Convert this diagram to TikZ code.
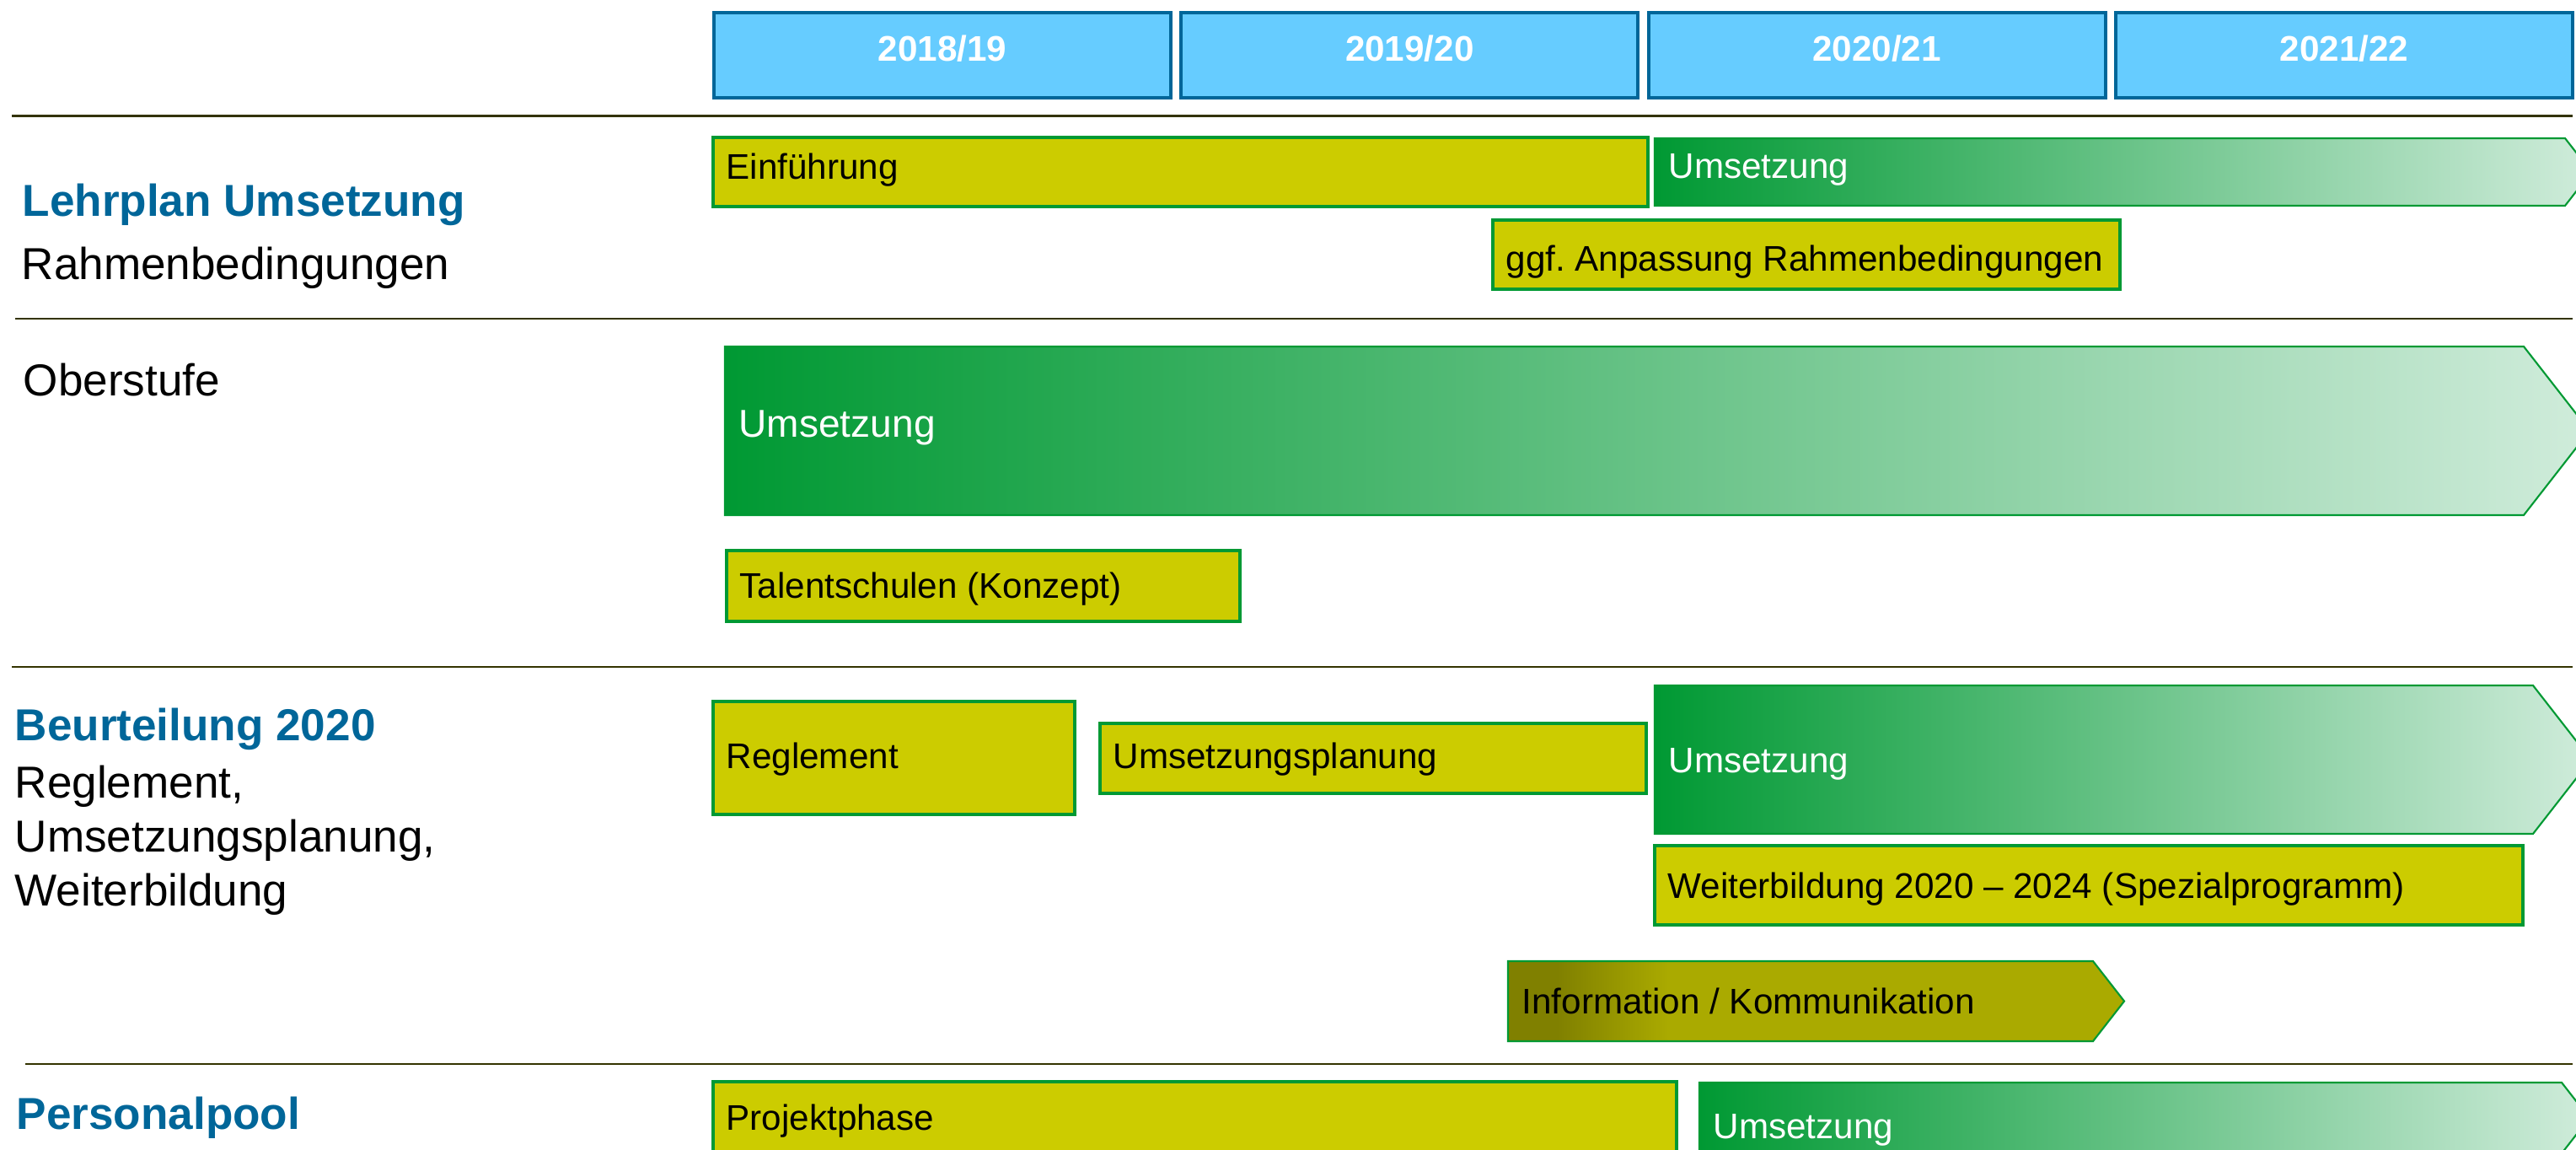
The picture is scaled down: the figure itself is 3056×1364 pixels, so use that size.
\documentclass[tikz,border=0pt]{standalone}
\usepackage{fontspec}
\setmainfont{Liberation Sans}
\usetikzlibrary{calc}
\frenchspacing

\definecolor{yearfill}{HTML}{66CCFF}
\definecolor{yearline}{HTML}{006699}
\definecolor{headblue}{HTML}{006699}
\definecolor{barfill}{HTML}{CCCC00}
\definecolor{bargreen}{HTML}{009933}
\definecolor{palegreen}{HTML}{D0ECDB}
\definecolor{infodark}{HTML}{808000}
\definecolor{infolight}{HTML}{AAAA00}
\definecolor{rulecolor}{HTML}{333300}

\pgfdeclarehorizontalshading{infoshade}{100bp}{color(0bp)=(infodark); color(29bp)=(infodark); color(38bp)=(infolight); color(100bp)=(infolight)}

\begin{document}
\begin{tikzpicture}[x=0.01cm,y=-0.01cm,
  yearbox/.style={draw=yearline,line width=1.1pt,fill=yearfill},
  yeartext/.style={anchor=base,inner sep=0pt,text=white,font=\fontsize{12}{14}\selectfont\bfseries},
  rule/.style={draw=rulecolor,line width=0.85pt},
  headtext/.style={anchor=base west,inner sep=0pt,text=headblue,font=\fontsize{15.1}{18}\selectfont\bfseries},
  subtext/.style={anchor=base west,inner sep=0pt,font=\fontsize{15.1}{18}\selectfont},
  yellowbar/.style={draw=bargreen,line width=1.4pt,fill=barfill},
  bartext/.style={anchor=base west,inner sep=0pt,font=\fontsize{12}{14}\selectfont},
  greenarrow/.style={draw=bargreen,line width=0.6pt,left color=bargreen,right color=palegreen},
  infoarrow/.style={draw=bargreen,line width=0.6pt,shading=infoshade},
  arrowtext/.style={bartext,text=white},
  bigarrowtext/.style={arrowtext,font=\fontsize{13.1}{16}\selectfont}]

  \useasboundingbox (0,0) rectangle (3056,1364);

  % name, x1, y1, x2, y2, baseline, text
  \def\planbox#1#2#3#4#5#6#7{
    \draw[yellowbar] (#2,#3) rectangle (#4,#5);
    \node[bartext] (#1) at ({#2+15},#6) {#7};
  }
  % name, shape style, text style, x1, y1, start of head, y2, baseline, text
  \def\planarrow#1#2#3#4#5#6#7#8#9{
    \path[#2] (#4,#5) -- (#6,#5) -- ({#6+0.78*(#7-#5)/2},{(#5+#7)/2}) -- (#6,#7) -- (#4,#7) -- cycle;
    \node[#3] (#1) at ({#4+16},#8) {#9};
  }

  \foreach \i in {0,...,3} {
    \pgfmathtruncatemacro{\ya}{2018+\i}
    \pgfmathtruncatemacro{\yb}{19+\i}
    \pgfmathsetmacro{\xa}{847+554.3*\i}
    \draw[yearbox] (\xa,15) rectangle ++(542,101);
    \node[yeartext] (year\i) at ({\xa+271},73) {\ya/\yb};
  }

  \foreach \yy/\xs in {138/14,378/18,791/14,1262/30}
    \draw[rule] (\xs,\yy) -- (3052,\yy);

  % Lehrplan
  \node[headtext] (lehrplan) at (26,257) {Lehrplan Umsetzung};
  \node[subtext] (rahmen) at (25,332) {Rahmenbedingungen};
  \planbox{einfuehrung}{846}{163}{1955}{245}{213}{Einführung}
  \planarrow{lpumsetzung}{greenarrow}{arrowtext}{1963}{164}{3043}{244}{212}{Umsetzung}
  \planbox{anpassung}{1771}{261}{2515}{343}{322}{ggf. Anpassung Rahmenbedingungen}

  % Oberstufe
  \node[subtext] (oberstufe) at (27,470) {Oberstufe};
  \planarrow{osumsetzung}{greenarrow}{bigarrowtext}{860}{411}{2994}{611}{519}{Umsetzung}
  \planbox{talent}{862}{653}{1471}{737}{710}{Talentschulen (Konzept)}

  % Beurteilung
  \node[headtext] (beurteilung) at (17,879) {Beurteilung 2020};
  \node[subtext] (reglementlbl) at (17,946) {Reglement,};
  \node[subtext] (planunglbl) at (17,1011) {Umsetzungsplanung,};
  \node[subtext] (weiterlbl) at (17,1074) {Weiterbildung};
  \planbox{reglement}{846}{832}{1275}{966}{912}{Reglement}
  \planbox{planung}{1305}{858}{1953}{941}{912}{Umsetzungsplanung}
  \planarrow{bumsetzung}{greenarrow}{arrowtext}{1963}{813}{3005}{989}{916}{Umsetzung}
  \planbox{weiterbildung}{1963}{1003}{2993}{1097}{1065}{Weiterbildung 2020 – 2024 (Spezialprogramm)}
  \planarrow{info}{infoarrow}{bartext}{1789}{1140}{2483}{1235}{1202}{Information / Kommunikation}

  % Personalpool
  \node[headtext] (personalpool) at (19,1339) {Personalpool};
  \planbox{projekt}{846}{1283}{1989}{1366}{1340}{Projektphase}
  \planarrow{ppumsetzung}{greenarrow}{arrowtext}{2016}{1284}{3039}{1368}{1350}{Umsetzung}

\end{tikzpicture}
\end{document}
